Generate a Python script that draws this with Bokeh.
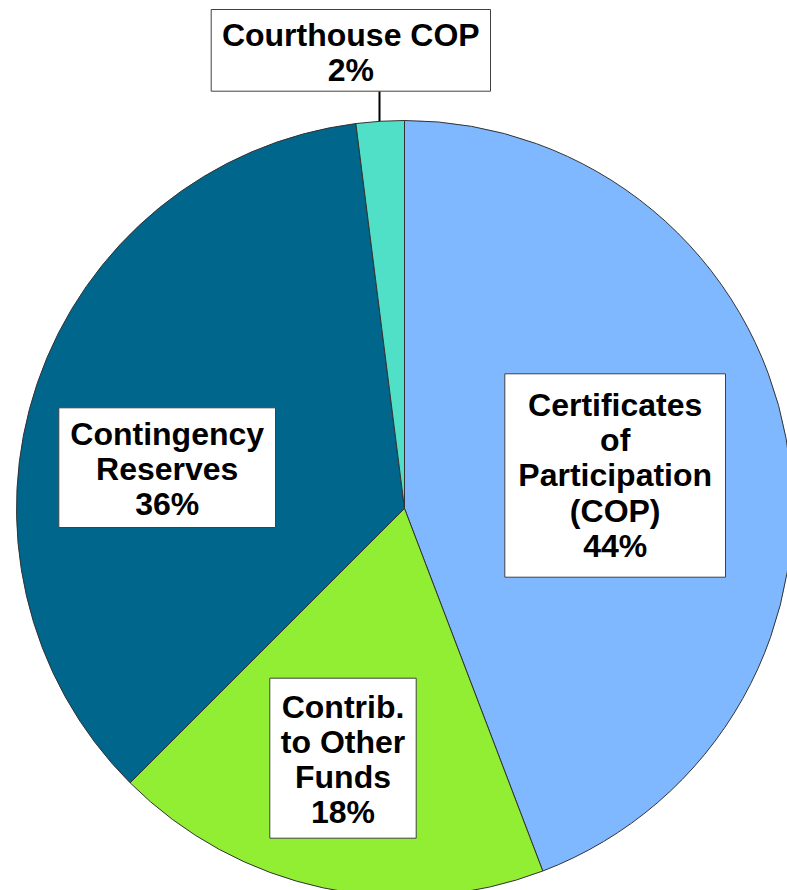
from bokeh.plotting import figure
from bokeh.models import Range1d
from bokeh.embed import file_html
from bokeh.resources import INLINE
from bokeh.core.properties import value
import numpy as np

# ---- data ----
categories = ["Certificates of Participation (COP)", "Contrib. to Other Funds",
              "Contingency Reserves", "Courthouse COP"]
shares = [44.2, 18.3, 35.5, 2.0]
label_texts = ["Certificates\nof\nParticipation\n(COP)\n44%",
               "Contrib.\nto Other\nFunds\n18%",
               "Contingency\nReserves\n36%",
               "Courthouse COP\n2%"]
colors = ["#80B8FF", "#92EE32", "#00668C", "#50E0C8"]

# ---- layout (1 data unit = 1 px) ----
W, H = 787, 890
cx, cy, R = 404, 382, 388

# label boxes: left, right, top, bottom ; text centers
box_l = [504.3, 269.3, 58.3, 210.7]
box_r = [725.0, 415.7, 275.0, 490.0]
box_t = [516.7, 212.3, 482.7, 881.0]
box_b = [313.3, 52.3, 363.0, 799.3]
txt_x = [614.7, 342.5, 166.7, 350.3]
txt_y = [415.0, 131.0, 421.7, 838.3]
leader_x = 379

p = figure(width=W, height=H, x_range=Range1d(0, W), y_range=Range1d(0, H),
           output_backend="svg", toolbar_location=None, min_border=0)
p.axis.visible = False
p.grid.visible = False
p.outline_line_color = None
p.background_fill_color = "white"

tot = float(sum(shares))
cum = np.concatenate([[0.0], np.cumsum(shares)]) / tot * 2 * np.pi
start = np.pi / 2 - cum[1:]
end = np.pi / 2 - cum[:-1]

p.wedge(x=[cx] * 4, y=[cy] * 4, radius=R, start_angle=list(start), end_angle=list(end),
        fill_color=colors, line_color="#333333", line_width=1)

# leader line for the small slice
ly_top = box_b[3]
ly_bot = cy + np.sqrt(R ** 2 - (leader_x - cx) ** 2)
p.segment(x0=[leader_x], y0=[ly_top], x1=[leader_x], y1=[ly_bot], line_color="black", line_width=2)

p.quad(left=box_l, right=box_r, top=box_t, bottom=box_b,
       fill_color="white", line_color="#404040", line_width=1)

p.text(x=txt_x, y=txt_y, text=label_texts, text_font=value("Liberation Sans"),
       text_font_style="bold", text_font_size="32px", text_align="center",
       text_baseline="middle", text_line_height=0.98, text_color="black")

open("out.html", "w").write(file_html(p, INLINE))
